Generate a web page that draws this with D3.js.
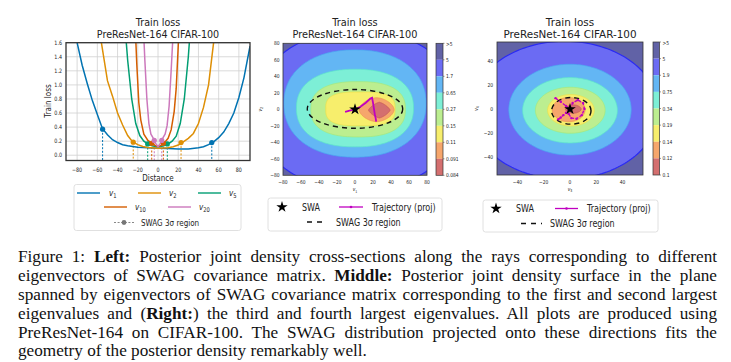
<!DOCTYPE html>
<html><head><meta charset="utf-8">
<script src="https://cdn.jsdelivr.net/npm/d3@7"></script>
<style>body{margin:0;background:#fff}svg{display:block}</style>
</head><body>
<svg id="c" width="731" height="362"></svg>
<script>
// ---------------- DATA ----------------
const seriesNames = ["1","2","5","10","20"];
const seriesColors = ["#0173b2","#de8f05","#029e73","#d55e00","#cc78bc"];
const v1Dist = [-80,-75,-70,-65,-60,-55,-50,-45,-40,-35,-30,-20,-10,0,10,20,30,40,45,50,55,60,65,70,75,80,85,91];
const v1Loss = [1.6,1.28,1.02,0.78,0.58,0.38,0.29,0.22,0.18,0.15,0.135,0.115,0.105,0.1,0.095,0.09,0.09,0.105,0.12,0.15,0.19,0.25,0.33,0.45,0.6,0.82,1.1,1.55];
const v2Dist = [-58,-56,-50,-45,-40,-35,-30,-25,-20,-15,-10,0,10,15,20,25,30,35,40,45,50,55,58];
const v2Loss = [1.9,1.6,1.06,0.84,0.6,0.43,0.28,0.19,0.15,0.125,0.11,0.1,0.105,0.12,0.145,0.19,0.24,0.31,0.45,0.68,1.0,1.6,1.95];
const v5Dist = [-33,-30,-26,-22,-18,-14,-10,-5,0,5,10,14,18,22,26,30,32];
const v5Loss = [1.9,1.35,0.8,0.45,0.28,0.2,0.16,0.13,0.12,0.13,0.16,0.2,0.27,0.45,0.8,1.4,1.8];
const v10Dist = [-23,-21,-19,-17,-14,-10,-6,-3,0,3,6,10,13,16,18,20,21];
const v10Loss = [2.0,1.3,0.75,0.5,0.3,0.21,0.17,0.14,0.12,0.14,0.17,0.24,0.36,0.62,0.95,1.55,1.9];
const v20Dist = [-15,-13,-11,-9,-7,-5,-3.7,-2,0,2,3.7,5,7,9,11,13,15];
const v20Loss = [2.0,1.35,0.8,0.45,0.3,0.25,0.21,0.16,0.12,0.16,0.21,0.25,0.3,0.42,0.7,1.2,1.75];
const swagLeftDist = [-54.8,-24.5,-10.2,-6.2,-3.7];
const swagLeftLoss = [0.37,0.185,0.16,0.17,0.21];
const swagRightDist = [53.2,22.8,9.2,5.3,3.7];
const swagRightLoss = [0.18,0.18,0.16,0.17,0.21];
const leftXTicks = [-80,-60,-40,-20,0,20,40,60,80];
const leftYTicks = [0,0.2,0.4,0.6,0.8,1.0,1.2,1.4,1.6];

// contour band colours (top of colorbar -> bottom)
const bandFill = ["#6162a6","#6b6bf3","#63b6f4","#7defd6","#bcee90","#f7ee6c","#f6a66c","#d46f6f"];
const bandEdge = [null,"#2a2af5","#4aa8f0","#5fe6c8","#a6e878","#ecdf48","#ee9050","#c45858"];
const midLevelLabels = [">5","5","1.7","0.65","0.27","0.15","0.11","0.091","0.084"];
const rightLevelLabels = [">5","5","1.9","0.75","0.34","0.19","0.14","0.12","0.1"];
// contour regions (outer -> inner), centre/half-widths in plane units, superellipse exponent
const midCx = [3,0,0,3.5,6,24,27];
const midCy = [-1,7,1.5,0,0.5,-0.5,-1];
const midRx = [117,79,65,52.5,38.5,19.5,12];
const midRy = [98,65,47,33.5,20.5,14.5,9.5];
const midN  = [2,2.2,2.3,2.5,3,1.7,1.35];
const rightCx = [-4,0,0,0.2,0.7,-1,2.5];
const rightCy = [-1,-0.5,-1,-1,-1,-0.5,0];
const rightRx = [71.5,46.5,36,26.5,17.7,12.5,6];
const rightRy = [57,37.5,27,19,13,10,3.5];
const rightN  = [2,2,2,2,2,2,1.8];
const midSwag = [0,0.5,53,23.5];     // cx, cy, rx, ry
const rightSwag = [1,-1.5,15,11];
const midTrajX = [-11,-6,0,6,12,17,19,20,21,22,23,23.5];
const midTrajY = [-3,-1.5,0,3,8,13,14,8,1,-6,-11,-15];
const rightTrajX = [-11,-7,-3,0,2,6,10,11,9,5,1,-1,-3,-5,-7,-9];
const rightTrajY = [9,6,2.5,0,5,7.5,5,0,-5,-8,-7.5,-4,-3,-5,-7,-8.5];
const midTicks = [-80,-60,-40,-20,0,20,40,60,80];
const rightTicks = [-40,-20,0,20,40];

const captionLines = [
  [["Figure 1: ",0],["Left:",1],[" Posterior joint density cross-sections along the rays corresponding to different",0]],
  [["eigenvectors of SWAG covariance matrix. ",0],["Middle:",1],[" Posterior joint density surface in the plane",0]],
  [["spanned by eigenvectors of SWAG covariance matrix corresponding to the first and second largest",0]],
  [["eigenvalues and (",0],["Right:",1],[") the third and fourth largest eigenvalues. All plots are produced using",0]],
  [["PreResNet-164 on CIFAR-100. The SWAG distribution projected onto these directions fits the",0]],
  [["geometry of the posterior density remarkably well.",0]]
];

// ---------------- DRAW ----------------
const svg = d3.select("#c");
const F = "DejaVu Sans";
const K = 0.8;
function cond(sel, k){ k = k||K; sel.each(function(){ const L=this.getComputedTextLength(); if(L>0){ this.setAttribute("textLength", L*k); this.setAttribute("lengthAdjust","spacingAndGlyphs"); } }); return sel; }
function txt(g, x, y, s, size, anchor, opts){
  opts = opts||{};
  const t = g.append("text").attr("x",x).attr("y",y).attr("font-family",F).attr("font-size",size)
    .attr("text-anchor",anchor||"start").attr("fill",opts.fill||"#222").text(s);
  if(opts.rot) t.attr("transform",`rotate(-90,${x},${y})`);
  cond(t, opts.k);
  return t;
}
function vlabel(g, x, y, sub, size, anchor, rot){
  const t = g.append("text").attr("x",x).attr("y",y).attr("font-family",F).attr("font-size",size)
    .attr("text-anchor",anchor||"start").attr("fill","#222");
  t.append("tspan").attr("font-style","italic").text("v");
  t.append("tspan").attr("font-size",size*0.72).attr("dy",size*0.25).text(sub);
  if(rot) t.attr("transform",`rotate(-90,${x},${y})`);
  cond(t);
  return t;
}
function title2(g, cx, size, k){
  txt(g,cx,26,"Train loss",size,"middle",{k:k});
  txt(g,cx,38.3,"PreResNet-164 CIFAR-100",size,"middle",{k:k});
}

// ===== LEFT PLOT =====
const xL = d3.scaleLinear().domain([-91,91]).range([66,250]);
const yL = d3.scaleLinear().domain([-0.075,1.6]).range([160.5,42.7]);
const gL = svg.append("g");
svg.append("clipPath").attr("id","clipL").append("rect").attr("x",66).attr("y",42.7).attr("width",184).attr("height",117.8);
gL.selectAll(".gx").data(leftXTicks).enter().append("line").attr("x1",d=>xL(d)).attr("x2",d=>xL(d)).attr("y1",42.7).attr("y2",160.5).attr("stroke","#d0d0d0").attr("stroke-width",0.8);
gL.selectAll(".gy").data(leftYTicks).enter().append("line").attr("y1",d=>yL(d)).attr("y2",d=>yL(d)).attr("x1",66).attr("x2",250).attr("stroke","#d0d0d0").attr("stroke-width",0.8);
const dists = [v1Dist,v2Dist,v5Dist,v10Dist,v20Dist];
const losses = [v1Loss,v2Loss,v5Loss,v10Loss,v20Loss];
const lineL = d3.line().x(d=>xL(d[0])).y(d=>yL(d[1]));
const gLc = gL.append("g").attr("clip-path","url(#clipL)");
seriesNames.forEach((n,i)=>{
  [[swagLeftDist[i],swagLeftLoss[i]],[swagRightDist[i],swagRightLoss[i]]].forEach(p=>{
    gLc.append("line").attr("x1",xL(p[0])).attr("x2",xL(p[0])).attr("y1",yL(p[1])).attr("y2",yL(-0.075))
      .attr("stroke",seriesColors[i]).attr("stroke-width",1).attr("stroke-dasharray","2,1.6");
  });
});
seriesNames.forEach((n,i)=>{
  gLc.append("path").attr("d",lineL(dists[i].map((d,j)=>[d,losses[i][j]]))).attr("fill","none")
    .attr("stroke",seriesColors[i]).attr("stroke-width",1.5);
});
seriesNames.forEach((n,i)=>{
  [[swagLeftDist[i],swagLeftLoss[i]],[swagRightDist[i],swagRightLoss[i]]].forEach(p=>{
    gLc.append("circle").attr("cx",xL(p[0])).attr("cy",yL(p[1])).attr("r",2.6).attr("fill",seriesColors[i]);
  });
});
gL.append("rect").attr("x",66).attr("y",42.7).attr("width",184).attr("height",117.8).attr("fill","none").attr("stroke","#333").attr("stroke-width",1.3);
leftXTicks.forEach(d=>txt(gL,xL(d),171.5,String(d).replace("-","\u2212"),6,"middle"));
leftYTicks.forEach(d=>txt(gL,62,yL(d)+2.2,d3.format(".1f")(d),6,"end"));
txt(gL,158,180.5,"Distance",9,"middle");
txt(gL,51,101,"Train loss",9,"middle",{rot:true});
title2(gL,158,10.5,0.91);
// legend
const lg = svg.append("g");
lg.append("rect").attr("x",74).attr("y",184.5).attr("width",167).attr("height",46).attr("rx",2.5).attr("fill","#fff").attr("stroke","#d8d8d8").attr("stroke-width",0.8);
const legPos = [[77,100,109,193],[138,161,169,193],[198,221,229,193],[104,127,135,207],[168,191,199,207]];
seriesNames.forEach((n,i)=>{
  const p = legPos[i];
  lg.append("line").attr("x1",p[0]).attr("x2",p[1]).attr("y1",p[3]).attr("y2",p[3]).attr("stroke",seriesColors[i]).attr("stroke-width",1.4);
  vlabel(lg,p[2],p[3]+2.5,n,9,"start");
});
lg.append("line").attr("x1",114).attr("x2",134).attr("y1",222.5).attr("y2",222.5).attr("stroke","#888").attr("stroke-width",1).attr("stroke-dasharray","2,1.6");
lg.append("circle").attr("cx",124).attr("cy",222.5).attr("r",2.4).attr("fill","#777");
txt(lg,141,225.8,"SWAG 3\u03c3 region",9,"start");

// ===== CONTOUR PLOTS =====
function superPath(cx,cy,rx,ry,n,xs,ys){
  const pts=[];
  for(let i=0;i<200;i++){ const t=i/200*2*Math.PI, c=Math.cos(t), s=Math.sin(t);
    pts.push([xs(cx+rx*Math.sign(c)*Math.pow(Math.abs(c),2/n)), ys(cy+ry*Math.sign(s)*Math.pow(Math.abs(s),2/n))]); }
  return d3.line()(pts)+"Z";
}
function contourPanel(cfg){
  const {id,x0,x1,y0,y1,dom,cx,cy,rx,ry,nn,swag,tx,ty,ticks,labels,cbx,cbw,tsize,tk,xsub,ysub,dashedTraj,ylabx,tickLabX} = cfg;
  const xs = d3.scaleLinear().domain(dom[0]).range([x0,x1]);
  const ys = d3.scaleLinear().domain(dom[1]).range([y1,y0]);
  const g = svg.append("g");
  svg.append("clipPath").attr("id",id).append("rect").attr("x",x0).attr("y",y0).attr("width",x1-x0).attr("height",y1-y0);
  const gc = g.append("g").attr("clip-path",`url(#${id})`);
  gc.append("rect").attr("x",x0).attr("y",y0).attr("width",x1-x0).attr("height",y1-y0).attr("fill",bandFill[0]);
  cx.forEach((c,i)=>{
    gc.append("path").attr("d",superPath(c,cy[i],rx[i],ry[i],nn[i],xs,ys)).attr("fill",bandFill[i+1])
      .attr("stroke",bandEdge[i+1]).attr("stroke-width",i===0?1.2:0.7);
  });
  gc.append("ellipse").attr("cx",xs(swag[0])).attr("cy",ys(swag[1])).attr("rx",xs(swag[0]+swag[2])-xs(swag[0])).attr("ry",ys(swag[1])-ys(swag[1]+swag[3]))
    .attr("fill","none").attr("stroke","#111").attr("stroke-width",1.4).attr("stroke-dasharray","5,4");
  const pts = tx.map((d,i)=>[xs(d),ys(ty[i])]);
  const tp = gc.append("path").attr("d",d3.line()(pts)).attr("fill","none").attr("stroke","#c000c0").attr("stroke-width",dashedTraj?1.3:1.8);
  if(dashedTraj){ tp.attr("stroke-dasharray","3,1.5");
    gc.selectAll(".tm").data(pts).enter().append("circle").attr("cx",d=>d[0]).attr("cy",d=>d[1]).attr("r",1.2).attr("fill","#c000c0"); }
  gc.append("path").attr("d",d3.symbol().type(d3.symbolStar).size(42)()).attr("transform",`translate(${xs(0)},${ys(0)})`).attr("fill","#000");
  g.append("rect").attr("x",x0).attr("y",y0).attr("width",x1-x0).attr("height",y1-y0).attr("fill","none").attr("stroke","#333").attr("stroke-width",0.8);
  ticks.forEach(d=>txt(g,xs(d),y1+8.5,String(d).replace("-","\u2212"),5.5,"middle"));
  ticks.forEach(d=>txt(g,tickLabX,ys(d)+2,String(d).replace("-","\u2212"),5.5,"end"));
  vlabel(g,(x0+x1)/2,y1+16,xsub,5.5,"middle");
  vlabel(g,ylabx,(y0+y1)/2,ysub,5.5,"middle",true);
  title2(g,(x0+x1)/2,tsize,tk);
  const cb = d3.scaleLinear().domain([0,8]).range([y0,y1]);
  bandFill.forEach((c,i)=>{
    g.append("rect").attr("x",cbx).attr("y",cb(i)).attr("width",cbw).attr("height",cb(i+1)-cb(i)).attr("fill",c);
  });
  g.append("rect").attr("x",cbx).attr("y",y0).attr("width",cbw).attr("height",y1-y0).attr("fill","none").attr("stroke","#333").attr("stroke-width",0.7);
  labels.forEach((s,i)=>{
    g.append("line").attr("x1",cbx+cbw).attr("x2",cbx+cbw+1.5).attr("y1",cb(i)).attr("y2",cb(i)).attr("stroke","#333").attr("stroke-width",0.5);
    txt(g,cbx+cbw+3,cb(i)+2+(i===0?1:0),s,5.5,"start");
  });
}
contourPanel({id:"clipM",x0:283,x1:427,y0:43.3,y1:175.3,dom:[[-80,80],[-80,80]],cx:midCx,cy:midCy,rx:midRx,ry:midRy,nn:midN,
  swag:midSwag,tx:midTrajX,ty:midTrajY,ticks:midTicks,labels:midLevelLabels,cbx:436,cbw:7,tsize:10.5,tk:0.93,xsub:"1",ysub:"2",dashedTraj:false,ylabx:262,tickLabX:279.5});
contourPanel({id:"clipR",x0:497,x1:643,y0:42,y1:175,dom:[[-55.5,55.5],[-54.5,55.4]],cx:rightCx,cy:rightCy,rx:rightRx,ry:rightRy,nn:rightN,
  swag:rightSwag,tx:rightTrajX,ty:rightTrajY,ticks:rightTicks,labels:rightLevelLabels,cbx:653,cbw:6.5,tsize:10.5,tk:0.99,xsub:"3",ysub:"4",dashedTraj:true,ylabx:478,tickLabX:493});

function contourLegend(bx,by,bw,bh,starX,swaX,l0,l1,trX,r1,dash0,dash1,swagX,r2){
  const g = svg.append("g");
  g.append("rect").attr("x",bx).attr("y",by).attr("width",bw).attr("height",bh).attr("rx",2.5).attr("fill","#fff").attr("stroke","#d8d8d8").attr("stroke-width",0.8);
  g.append("path").attr("d",d3.symbol().type(d3.symbolStar).size(40)()).attr("transform",`translate(${starX},${r1})`).attr("fill","#000");
  txt(g,swaX,r1+3.5,"SWA",10,"start");
  g.append("line").attr("x1",l0).attr("x2",l1).attr("y1",r1).attr("y2",r1).attr("stroke","#c000c0").attr("stroke-width",1.3);
  g.append("circle").attr("cx",(l0+l1)/2).attr("cy",r1).attr("r",1.3).attr("fill","#c000c0");
  txt(g,trX,r1+3.5,"Trajectory (proj)",10,"start");
  g.append("line").attr("x1",dash0).attr("x2",dash1).attr("y1",r2).attr("y2",r2).attr("stroke","#111").attr("stroke-width",1.5).attr("stroke-dasharray","5,5");
  txt(g,swagX,r2+3.5,"SWAG 3\u03c3 region",10,"start");
}
contourLegend(268,198,174,33,282,302,339,363,372,207,307,327,336,222);
contourLegend(483,200,175,32,496,516,555,578,587,208.5,521,542,550,223.5);

// ===== CAPTION =====
const cap = svg.append("g");
const capY = [262,281,300,319,337.5,356];
captionLines.forEach((parts,i)=>{
  const t = cap.append("text").attr("x",18).attr("y",capY[i]).attr("font-family","Liberation Serif, 'Times New Roman', serif").attr("font-size",17.2).attr("fill","#111")
    .style("white-space","pre");
  parts.forEach(p=>t.append("tspan").attr("font-weight",p[1]?"bold":"normal").text(p[0]));
  if(i<captionLines.length-1){
    const nat = t.node().getComputedTextLength();
    const nsp = parts.map(p=>p[0]).join("").split(" ").length-1;
    t.attr("word-spacing", (699-nat)/nsp);
  }
});
</script>
</body></html>
